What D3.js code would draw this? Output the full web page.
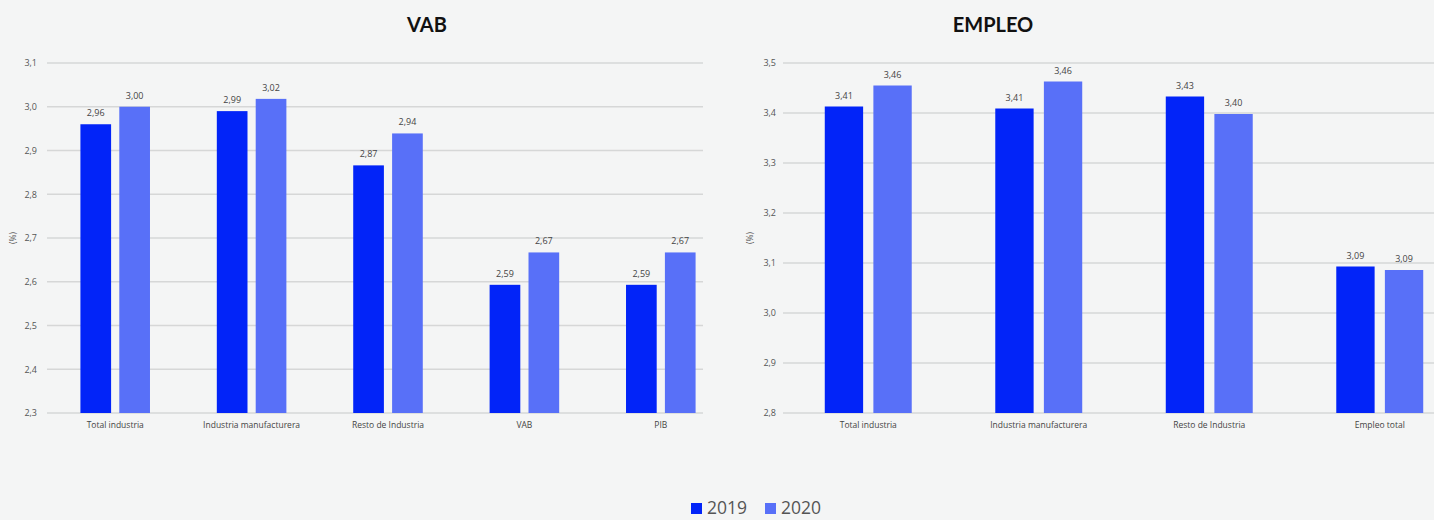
<!DOCTYPE html>
<html><head><meta charset="utf-8">
<script src="https://cdn.jsdelivr.net/npm/d3@7"></script>
<style>
html,body{margin:0;padding:0;background:#f4f5f5;}
svg{display:block;}
</style></head>
<body><svg id="c" width="1434" height="520"></svg>
<script>
const series = ["2019", "2020"];
const colors = ["#0224f8", "#5870f8"];

const vabCategories = ["Total industria", "Industria manufacturera", "Resto de Industria", "VAB", "PIB"];
const vab2019 = [2.96, 2.99, 2.866, 2.593, 2.593];
const vab2020 = [3.00, 3.018, 2.939, 2.667, 2.667];
const vabTicks = [2.3, 2.4, 2.5, 2.6, 2.7, 2.8, 2.9, 3.0, 3.1];

const empCategories = ["Total industria", "Industria manufacturera", "Resto de Industria", "Empleo total"];
const emp2019 = [3.413, 3.409, 3.433, 3.093];
const emp2020 = [3.455, 3.463, 3.398, 3.086];
const empTicks = [2.8, 2.9, 3.0, 3.1, 3.2, 3.3, 3.4, 3.5];

const svg = d3.select("#c");
const fmt = v => v.toFixed(2).replace(".", ",");
const fmtTick = v => v.toFixed(1).replace(".", ",");
const FONT = "'Open Sans', sans-serif";

function panel(o) {
  const g = svg.append("g");
  const y = d3.scaleLinear().domain([o.ticks[0], o.ticks[o.ticks.length - 1]]).range([413, 63]);
  const x0 = d3.scaleBand().domain(o.categories).range([o.x0, o.x1]).paddingInner(0.49).paddingOuter(0.245);
  const x1 = d3.scaleBand().domain(series).range([0, x0.bandwidth()]).paddingInner(0.211);

  // grid
  g.append("g").selectAll("line").data(o.ticks).join("line")
    .attr("x1", o.x0).attr("x2", o.gridEnd)
    .attr("y1", d => y(d)).attr("y2", d => y(d))
    .attr("stroke", "#d6d7d7").attr("stroke-width", 1.6);

  // y axis labels
  const ya = g.append("g").attr("transform", `translate(${o.x0},0)`)
    .call(d3.axisLeft(y).tickValues(o.ticks).tickFormat(fmtTick).tickSize(0).tickPadding(o.tickPad));
  ya.select(".domain").remove();
  ya.selectAll("text").attr("font-family", FONT).attr("font-size", 9).attr("fill", "#555");

  // x axis labels
  const xa = g.append("g").attr("transform", `translate(0,413)`)
    .call(d3.axisBottom(x0).tickSize(0).tickPadding(9));
  xa.select(".domain").remove();
  xa.selectAll("text").attr("font-family", FONT).attr("font-size", 8.5).attr("fill", "#444");

  // bars
  const data = o.categories.map((c, i) => ({c, vals: [o.s1[i], o.s2[i]]}));
  const grp = g.append("g").selectAll("g").data(data).join("g")
    .attr("transform", d => `translate(${x0(d.c)},0)`);
  grp.selectAll("rect").data(d => d.vals.map((v, k) => ({v, k}))).join("rect")
    .attr("x", d => x1(series[d.k])).attr("width", x1.bandwidth())
    .attr("y", d => y(d.v)).attr("height", d => 413 - y(d.v))
    .attr("fill", d => colors[d.k]);
  grp.selectAll("text").data(d => d.vals.map((v, k) => ({v, k}))).join("text")
    .attr("x", d => x1(series[d.k]) + x1.bandwidth() / 2)
    .attr("y", d => y(d.v) - 8)
    .attr("text-anchor", "middle")
    .attr("font-family", FONT).attr("font-size", 9).attr("fill", "#444")
    .text(d => fmt(d.v));

  // title
  g.append("text").attr("x", o.titleX).attr("y", 32).attr("text-anchor", "middle")
    .attr("font-family", "Lato, sans-serif").attr("font-weight", "bold").attr("font-size", 20)
    .attr("fill", "#111").text(o.title);

  // y title
  g.append("text").attr("transform", `translate(${o.yTitleX},238) rotate(-90)`)
    .attr("text-anchor", "middle").attr("font-family", FONT).attr("font-size", 8.5).attr("fill", "#555")
    .text("(%)");
}

panel({categories: vabCategories, s1: vab2019, s2: vab2020, ticks: vabTicks,
  x0: 47, x1: 729, gridEnd: 703, tickPad: 10, title: "VAB", titleX: 427, yTitleX: 16});
panel({categories: empCategories, s1: emp2019, s2: emp2020, ticks: empTicks,
  x0: 783, x1: 1465, gridEnd: 1434, tickPad: 7, title: "EMPLEO", titleX: 993, yTitleX: 753});

// legend
const leg = svg.append("g");
const legX = [691, 765];
series.forEach((s, i) => {
  leg.append("rect").attr("x", legX[i]).attr("y", 503).attr("width", 11).attr("height", 11).attr("fill", colors[i]);
  leg.append("text").attr("x", legX[i] + 16).attr("y", 514)
    .attr("font-family", FONT).attr("font-size", 17.5).attr("fill", "#555").text(s);
});
</script></body></html>
